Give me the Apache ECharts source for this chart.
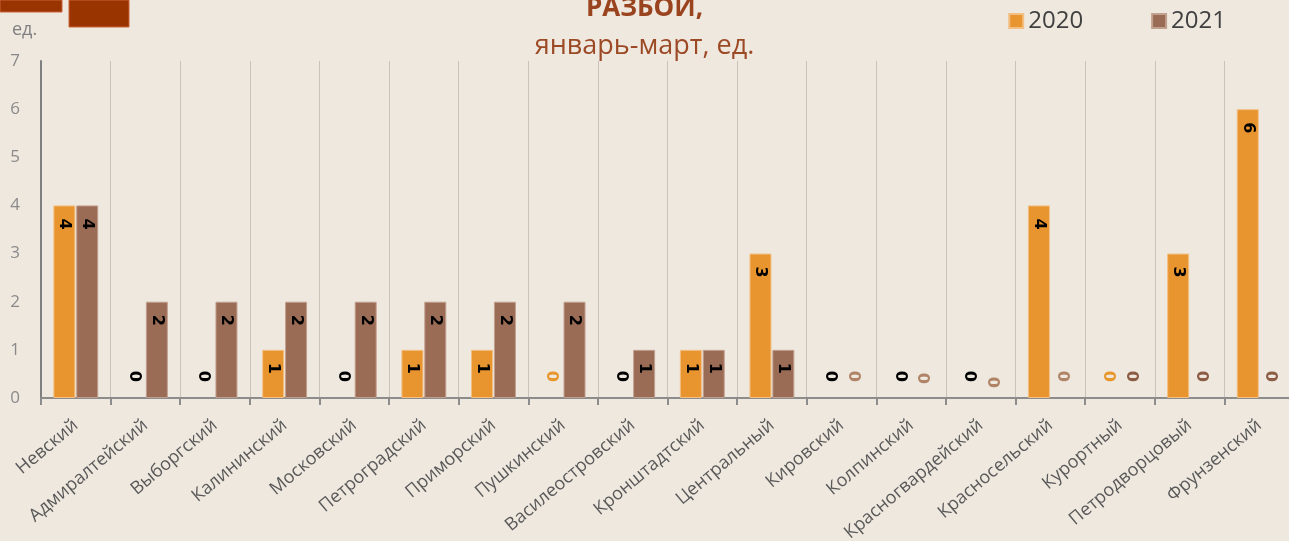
<!DOCTYPE html>
<html>
<head>
<meta charset="utf-8">
<script src="https://cdn.jsdelivr.net/npm/echarts@6/dist/echarts.min.js"></script>
<style>
html,body{margin:0;padding:0;background:#efe8df;}
#chart{width:1289px;height:541px;}
</style>
</head>
<body>
<div id="chart"></div>
<script>
const categories = ['Невский','Адмиралтейский','Выборгский','Калининский','Московский','Петроградский','Приморский','Пушкинский','Василеостровский','Кронштадтский','Центральный','Кировский','Колпинский','Красногвардейский','Красносельский','Курортный','Петродворцовый','Фрунзенский'];
const values2020 = [4,0,0,1,0,1,1,0,0,1,3,0,0,0,4,0,3,6];
const values2021 = [4,2,2,2,2,2,2,2,1,1,1,0,0,0,0,0,0,0];
const yTicks = [0,1,2,3,4,5,6,7];
const seriesNames = ['2020','2021'];

// zero-label colours (styling, by category index)
const zeroColor2020 = {7:'#e8962e', 15:'#e8962e'};
const zeroColor2021 = {11:'#b08466',12:'#b08466',13:'#b08466',14:'#b08466',15:'#8c5c45',16:'#8c5c45',17:'#8c5c45'};
const zeroDist2021 = {12:14, 13:10};

const ORANGE = '#e89530';
const BROWN = '#9a6b55';

function build(vals, zc, zd){
  return vals.map((v,i)=>{
    if(v!==0) return v;
    return {value:v, itemStyle:{borderWidth:0, color:'rgba(0,0,0,0)'},
      label:{position:'top', distance:(zd&&zd[i])||16, align:'right', verticalAlign:'middle', color:zc[i]||'#000'}};
  });
}

const chart = echarts.init(document.getElementById('chart'));
const valueLabel = {show:true, position:'insideTop', rotate:-90, align:'left', verticalAlign:'middle', distance:13, color:'#000', fontWeight:'bold', fontSize:16, fontFamily:'DejaVu Sans'};
chart.setOption({
  backgroundColor:'#efe8df',
  animation:false,
  title:[
    {text:'РАЗБОЙ,', left:'center', top:-9, textStyle:{fontFamily:'Open Sans', fontSize:26, fontWeight:'bold', color:'#99431f'}},
    {text:'январь-март, ед.', left:'center', top:28, textStyle:{fontFamily:'Open Sans', fontSize:27, fontWeight:'normal', color:'#9c4a26'}}
  ],
  legend:{right:58, top:4, itemWidth:14, itemHeight:14, itemGap:68, icon:'rect',
    textStyle:{fontFamily:'Open Sans', fontSize:24, color:'#404040'}, data:seriesNames},
  graphic:[
    {type:'rect', shape:{x:0,y:0,width:62,height:12}, style:{fill:'#993300', stroke:'#c8643a', lineWidth:1}},
    {type:'rect', shape:{x:69,y:0,width:60,height:27}, style:{fill:'#993300', stroke:'#c8643a', lineWidth:1}}
  ],
  grid:{left:41, top:61, width:1253, bottom:143, containLabel:false, outerBoundsMode:'none'},
  xAxis:{type:'category', data:categories,
    axisLine:{lineStyle:{color:'#8c8c8c', width:2}},
    axisTick:{show:true, length:7, lineStyle:{color:'#8c8c8c', width:2}},
    splitLine:{show:true, interval:0, lineStyle:{color:'#c8c4bd', width:1}},
    axisLabel:{interval:0, rotate:40, fontFamily:'Open Sans', fontSize:18, color:'#595959', margin:25}},
  yAxis:{type:'value', min:0, max:7, interval:1, name:'ед.',
    nameLocation:'end', nameGap:22, nameTextStyle:{fontFamily:'Open Sans', fontSize:18, color:'#808080', align:'left', padding:[0,0,0,-29]},
    axisLine:{show:true, lineStyle:{color:'#7f7f7f', width:2}},
    axisTick:{show:false}, splitLine:{show:false},
    axisLabel:{fontFamily:'Open Sans', fontSize:17, color:'#8a8a8a', margin:21,
      formatter:(v)=> yTicks.includes(v) ? String(v) : ''}},
  series:[
    {name:seriesNames[0], type:'bar', barWidth:22, barGap:'4%', data:build(values2020, zeroColor2020),
      itemStyle:{color:ORANGE, borderColor:'#f3bf82', borderWidth:1}, label:valueLabel},
    {name:seriesNames[1], type:'bar', barWidth:22, barGap:'4%', data:build(values2021, zeroColor2021, zeroDist2021),
      itemStyle:{color:BROWN, borderColor:'#c2a08f', borderWidth:1}, label:valueLabel}
  ]
});
</script>
</body>
</html>
